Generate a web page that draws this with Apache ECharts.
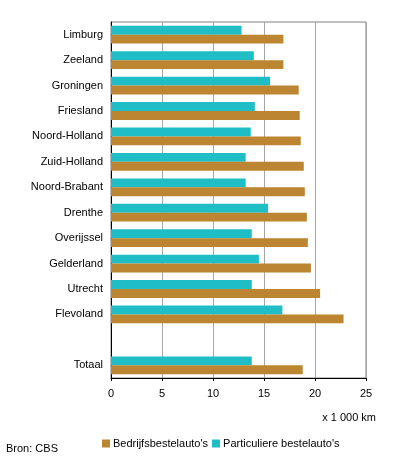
<!DOCTYPE html>
<html><head><meta charset="utf-8">
<script src="https://cdn.jsdelivr.net/npm/echarts@6/dist/echarts.min.js"></script>
<style>html,body{margin:0;padding:0;background:#fff}#c{width:396px;height:462px}</style>
</head><body><div id="c"></div>
<script>
const categories = ['Limburg','Zeeland','Groningen','Friesland','Noord-Holland','Zuid-Holland','Noord-Brabant','Drenthe','Overijssel','Gelderland','Utrecht','Flevoland','','Totaal'];
const bedrijf = [16.9,16.9,18.4,18.5,18.6,18.9,19.0,19.2,19.3,19.6,20.5,22.8,null,18.8];
const particulier = [12.8,14.0,15.6,14.1,13.7,13.2,13.2,15.4,13.8,14.5,13.8,16.8,null,13.8];
const xTicks = [0,5,10,15,20,25];
const seriesNames = ["Bedrijfsbestelauto's","Particuliere bestelauto's"];
const font = 'Arial, "Liberation Sans", sans-serif';
const chart = echarts.init(document.getElementById('c'));
chart.setOption({
  animation:false,
  textStyle:{fontFamily:font},
  grid:{left:111,right:30,top:22,bottom:84,show:true,borderColor:'#808080',borderWidth:1},
  xAxis:{type:'value',min:xTicks[0],max:xTicks[xTicks.length-1],interval:5,
    axisLine:{show:true,lineStyle:{color:'#000'}},
    axisTick:{show:true,length:3,lineStyle:{color:'#000'}},
    axisLabel:{color:'#000',fontSize:11,fontFamily:font,margin:10},
    splitLine:{show:true,lineStyle:{color:'#a6a6a6'}}},
  yAxis:{type:'category',data:categories,inverse:true,
    axisLine:{show:true,lineStyle:{color:'#000'}},
    axisTick:{show:false},
    axisLabel:{color:'#000',fontSize:11,fontFamily:font,margin:8},
    splitLine:{show:false}},
  legend:{data:seriesNames,left:97,top:433,itemWidth:8,itemHeight:8,itemGap:4,
    textStyle:{color:'#000',fontSize:11,fontFamily:font,padding:[0,0,0,-2]},icon:'rect'},
  graphic:[
    {type:'text',right:20,top:412,style:{text:'x 1 000 km',fill:'#000',font:'11px '+font}},
    {type:'text',left:6,top:443,style:{text:'Bron: CBS',fill:'#000',font:'11px '+font}}
  ],
  series:[
    {name:seriesNames[1],type:'bar',data:particulier,itemStyle:{color:'#1fbdc6'},barGap:'0%',barCategoryGap:'30%'},
    {name:seriesNames[0],type:'bar',data:bedrijf,itemStyle:{color:'#bb8531'},barGap:'0%',barCategoryGap:'30%'}
  ]
});
</script></body></html>
